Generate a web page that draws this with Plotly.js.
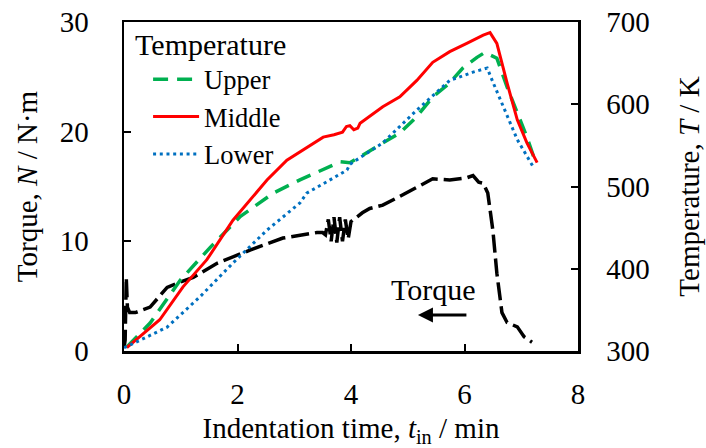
<!DOCTYPE html>
<html>
<head>
<meta charset="utf-8">
<script src="https://cdn.plot.ly/plotly-3.0.1.min.js"></script>
<style>html,body{margin:0;padding:0;background:#fff;}#chart{width:706px;height:448px;}</style>
</head>
<body>
<div id="chart"></div>
<script>
// Torque (left axis, N·m)
const torqueTime = [0, 0.02, 0.04, 0.06, 0.1, 0.2, 0.46, 0.76, 1.0, 1.22, 1.64, 2.22, 2.8, 3.4, 3.5, 3.55, 3.6, 3.65, 3.7, 3.75, 3.8, 3.85, 3.9, 3.95, 4.0, 4.1, 4.2, 4.33, 4.56, 4.86, 5.16, 5.44, 5.74, 6.04, 6.15, 6.25, 6.33, 6.41, 6.5, 6.57, 6.66, 6.75, 6.93, 7.05, 7.19];
const torqueVal  = [0.3, 1.0, 6.7, 4.0, 3.5, 3.5, 4.0, 5.8, 6.3, 6.7, 8.0, 9.2, 10.3, 10.8, 10.8, 10.6, 12.0, 10.0, 12.2, 9.9, 12.2, 10.0, 12.0, 10.2, 11.8, 12.2, 12.6, 13.0, 13.3, 14.1, 14.9, 15.7, 15.6, 15.8, 16.0, 15.4, 15.3, 14.4, 11.0, 7.1, 3.5, 2.6, 2.2, 1.3, 0.8, 0.7];

// Temperature (right axis, K)
const upperTime = [0.05, 0.46, 0.99, 1.52, 2.04, 2.63, 3.1, 3.5, 3.81, 3.98, 4.16, 4.56, 4.86, 5.16, 5.44, 5.74, 5.97, 6.22, 6.36, 6.45, 6.57, 6.75, 6.93, 7.1, 7.24];
const upperVal  = [305, 334, 386, 426, 463, 492, 508, 520, 530, 529, 536, 553, 565, 585, 609, 626, 644, 657, 663, 660, 656, 621, 589, 560, 532];

const middleTime = [0.05, 0.1, 0.63, 1.04, 1.46, 1.92, 2.22, 2.52, 2.87, 3.51, 3.7, 3.85, 3.92, 3.98, 4.05, 4.12, 4.16, 4.56, 4.86, 5.16, 5.44, 5.74, 6.04, 6.33, 6.45, 6.57, 6.75, 6.93, 7.1, 7.28];
const middleVal  = [304, 307, 338, 378, 411, 459, 484, 508, 532, 560, 563, 566, 573, 574, 569, 571, 577, 597, 609, 629, 651, 664, 674, 684, 687, 674, 626, 581, 553, 529];

const lowerTime = [0.0, 0.1, 0.76, 1.34, 1.92, 2.52, 3.1, 3.22, 3.58, 3.93, 3.98, 4.56, 5.16, 5.74, 6.15, 6.4, 6.5, 6.68, 6.93, 7.21];
const lowerVal  = [304, 307, 329, 366, 407, 447, 480, 492, 506, 520, 527, 553, 593, 629, 639, 644, 627, 597, 557, 524];

const xTicks = [0, 2, 4, 6, 8];
const yTicks = [0, 10, 20, 30];
const y2Ticks = [300, 400, 500, 600, 700];

const serif = 'Liberation Serif, Times New Roman, serif';

const traces = [
  {x: torqueTime, y: torqueVal, yaxis: 'y', mode: 'lines', name: 'Torque', showlegend: false,
   line: {color: '#000000', width: 3.5, dash: '18px,6px'}},
  {x: upperTime, y: upperVal, yaxis: 'y2', mode: 'lines', name: 'Upper',
   line: {color: '#00b050', width: 3.5, dash: '15px,9px'}},
  {x: middleTime, y: middleVal, yaxis: 'y2', mode: 'lines', name: 'Middle',
   line: {color: '#ff0000', width: 3}},
  {x: lowerTime, y: lowerVal, yaxis: 'y2', mode: 'lines', name: 'Lower',
   line: {color: '#0070c0', width: 3, dash: '3px,3.7px'}}
];

const layout = {
  width: 706, height: 448,
  margin: {l: 124, r: 128, t: 22, b: 97},
  paper_bgcolor: '#ffffff', plot_bgcolor: '#ffffff',
  font: {family: serif, color: '#000000', size: 29},
  showlegend: true,
  legend: {
    x: 0.02, y: 1.017, xanchor: 'left', yanchor: 'top',
    bgcolor: 'rgba(0,0,0,0)', borderwidth: 0,
    font: {family: serif, size: 26.5, color: '#000'},
    title: {text: 'Temperature', font: {family: serif, size: 30, color: '#000'}},
    itemwidth: 46, indentation: 15
  },
  xaxis: {
    range: [0, 8], tickvals: xTicks, ticktext: xTicks.map(String),
    showline: true, linecolor: '#000', linewidth: 2.5, mirror: true,
    ticks: 'inside', ticklen: 7, tickwidth: 2, tickcolor: '#000',
    showgrid: false, zeroline: false, ticklabelstandoff: 16,
    tickfont: {family: serif, size: 29, color: '#000'},
    title: {text: 'Indentation time, <i>t</i><sub>in</sub> / min', font: {family: serif, size: 29, color: '#000'}, standoff: 10}
  },
  yaxis: {
    range: [0, 30], tickvals: yTicks, ticktext: yTicks.map(String),
    showline: true, linecolor: '#000', linewidth: 2.5,
    ticks: 'inside', ticklen: 7, tickwidth: 2, tickcolor: '#000',
    showgrid: false, zeroline: false, ticklabelstandoff: 27,
    tickfont: {family: serif, size: 29, color: '#000'},
    title: {text: 'Torque, <i>N</i> / N·m', font: {family: serif, size: 29, color: '#000'}, standoff: 14}
  },
  yaxis2: {
    range: [300, 700], tickvals: y2Ticks, ticktext: y2Ticks.map(String),
    overlaying: 'y', side: 'right',
    showline: true, linecolor: '#000', linewidth: 2.5,
    ticks: 'inside', ticklen: 7, tickwidth: 2, tickcolor: '#000',
    showgrid: false, zeroline: false, ticklabelstandoff: 20,
    tickfont: {family: serif, size: 29, color: '#000'},
    title: {text: 'Temperature, <i>T</i> / K', font: {family: serif, size: 29, color: '#000'}, standoff: 30}
  },
  annotations: [
    {x: 5.45, y: 5.65, xref: 'x', yref: 'y', text: 'Torque', showarrow: false,
     font: {family: serif, size: 30, color: '#000'}},
    {x: 5.18, y: 3.28, xref: 'x', yref: 'y', ax: 6.06, ay: 3.28, axref: 'x', ayref: 'y',
     text: '', showarrow: true, arrowhead: 2, arrowsize: 1, arrowwidth: 3, arrowcolor: '#000'}
  ]
};

Plotly.newPlot('chart', traces, layout, {staticPlot: true, displayModeBar: false});
</script>
</body>
</html>
